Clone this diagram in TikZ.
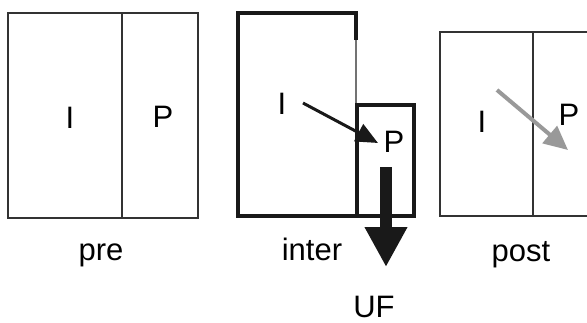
\documentclass[tikz,border=0pt]{standalone}
\usepackage{fontspec}
\setmainfont{Liberation Sans}
\usetikzlibrary{arrows.meta}

\begin{document}
\begin{tikzpicture}[x=1pt,y=-1pt,
    lbl/.style={font=\fontsize{31}{31}\selectfont,anchor=base,inner sep=0pt},
    thinbox/.style={line width=1.5pt,draw=black!80},
    thickbox/.style={line width=3.2pt,draw=black!90}]
\useasboundingbox (0,0) rectangle (587,322);
\fill[white] (0,0) rectangle (587,322);

% pre
\draw[thinbox] (8,13) rectangle (198,218) (122,13)--(122,218);
\node[lbl] (preI) at (70,128) {I};
\node[lbl] (preP) at (163,127) {P};
\node[lbl] (pre) at (101,260) {pre};

% inter
\draw[thickbox] (356,40)--(356,13)--(238,13)--(238,216)--(357,216);
\draw[line width=1.2pt,black!55] (356,40)--(356,105);
\draw[thickbox] (357,105) rectangle (414,216);
\node[lbl] (interI) at (282,114) {I};
\node[lbl] (interP) at (394,152) {P};
\node[lbl] (inter) at (312,260) {inter};
\node[lbl] (uf) at (374,317) {UF};
\coordinate (interIout) at (303,103);
\coordinate (interPin) at (378,143);
\draw[line width=3pt,black!90,-{Triangle[width=19pt,length=22pt]}] (interIout)--(interPin);
\coordinate (ufTop) at (386,167);
\coordinate (ufTip) at (386,267);
\draw[line width=12pt,black!90,-{Triangle[width=40pt,length=40pt]}] (ufTop)--(ufTip);

% post
\draw[thinbox] (600,32)--(440,32)--(440,216)--(600,216) (533,32)--(533,216);
\node[lbl] (postI) at (482,132) {I};
\node[lbl] (postP) at (569,125) {P};
\node[lbl] (post) at (521,261) {post};
\coordinate (postIout) at (497,90);
\coordinate (postPin) at (568,150);
\draw[line width=4pt,black!40,-{Triangle[width=22pt,length=24pt]}] (postIout)--(postPin);

\end{tikzpicture}
\end{document}
